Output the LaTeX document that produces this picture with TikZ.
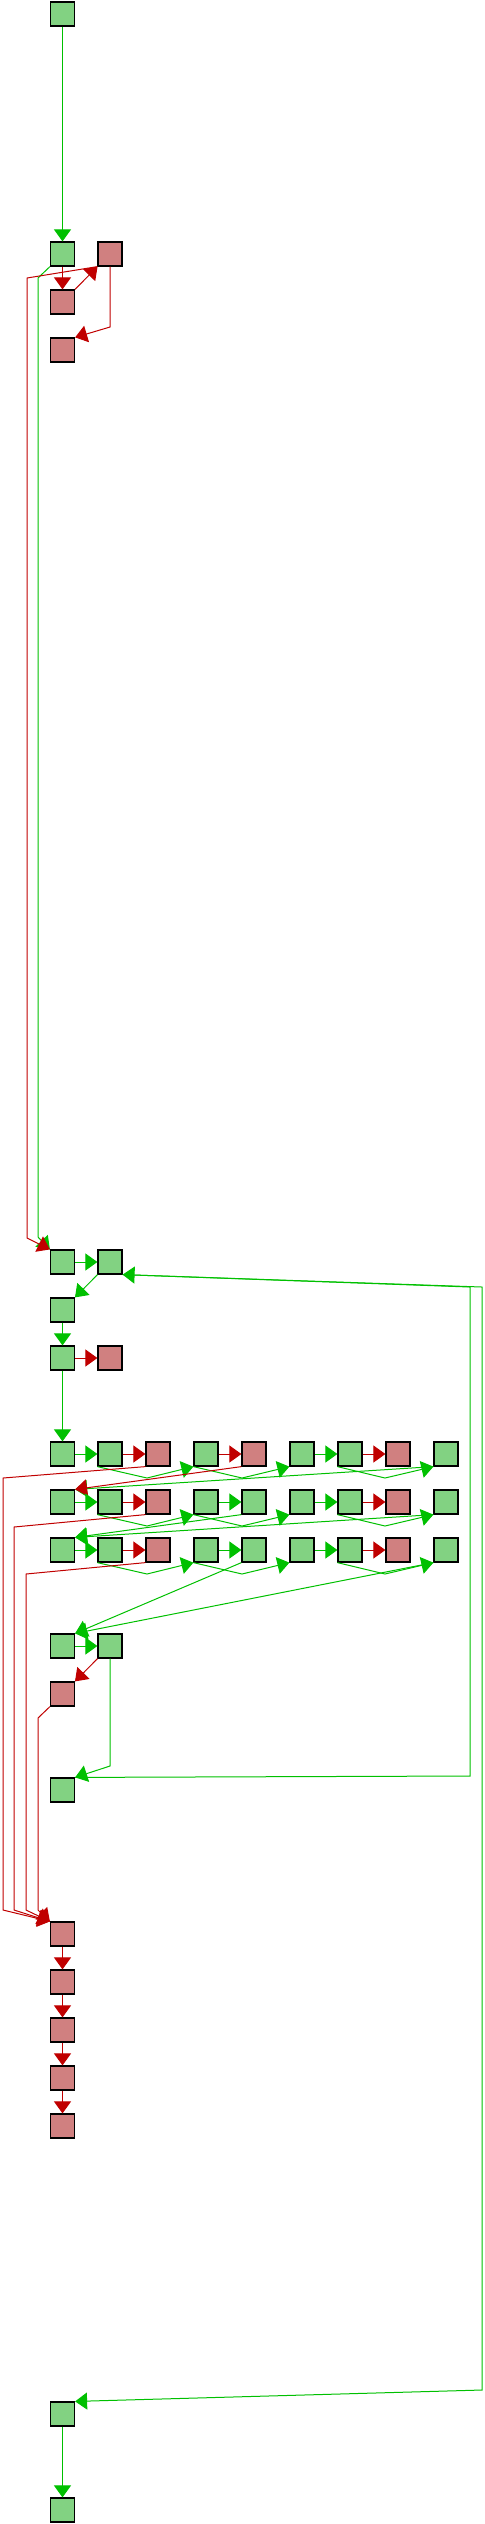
\documentclass[tikz,border=0pt]{standalone}
\usetikzlibrary{arrows.meta}

\definecolor{gfill}{RGB}{130,210,130}
\definecolor{rfill}{RGB}{208,128,128}
\definecolor{gline}{RGB}{0,192,0}
\definecolor{rline}{RGB}{192,0,0}

\tikzset{
    gbox/.style={draw, fill=gfill, minimum size=12pt, inner sep=0pt, line width=0.6pt},
    rbox/.style={draw, fill=rfill, minimum size=12pt, inner sep=0pt, line width=0.6pt},
    gedge/.style={draw=gline, line width=0.5pt, -{Triangle[length=6pt,width=8.5pt]}},
    redge/.style={draw=rline, line width=0.5pt, -{Triangle[length=6pt,width=8.5pt]}}
}

\begin{document}
\begin{tikzpicture}[x=0.5pt, y=-0.5pt]
            \useasboundingbox (0,0) rectangle (484,2524);

            \node (v1) at (62.5,14) [gbox] {};
            \node (v2) at (62.5,254) [gbox] {};
            \node (v3) at (110,254) [rbox] {};
            \node (v4) at (62.5,302) [rbox] {};
            \node (v5) at (62.5,350) [rbox] {};
            \draw[gedge] (v1) -- (v2);
            \draw[redge] (v2) -- (v4);
            \draw[redge] (v4) -- (v3);
            \draw[redge] (v3.south) -- (110,327) -- (v5.north east);

            \node (v6) at (62.5,1262) [gbox] {};
            \node (v7) at (110,1262) [gbox] {};
            \node (v8) at (62.5,1310) [gbox] {};
            \node (v9) at (62.5,1358) [gbox] {};
            \node (v10) at (110,1358) [rbox] {};
            \draw[gedge] (v2.south west) -- (38,278) -- (38,1237) -- (v6.north west);
            \draw[redge] (v3.south west) -- (27,278) -- (27,1238) -- (v6.north west);
            \draw[gedge] (v6) -- (v7);
            \draw[gedge] (v7) -- (v8);
            \draw[gedge] (v8) -- (v9);
            \draw[redge] (v9) -- (v10);

            % first row
            \node (a1) at (62.5,1454) [gbox] {};
            \node (a2) at (110,1454) [gbox] {};
            \node (a3) at (158,1454) [rbox] {};
            \node (a4) at (206,1454) [gbox] {};
            \node (a5) at (254,1454) [rbox] {};
            \node (a6) at (302,1454) [gbox] {};
            \node (a7) at (350,1454) [gbox] {};
            \node (a8) at (398,1454) [rbox] {};
            \node (a9) at (446,1454) [gbox] {};
            \draw[gedge] (v9) -- (a1);
            \draw[gedge] (a1) -- (a2);
            \draw[redge] (a2) -- (a3);
            \draw[redge] (a4) -- (a5);
            \draw[gedge] (a6) -- (a7);
            \draw[redge] (a7) -- (a8);
            \draw[gedge] (a2.south west) -- (147,1478) -- (a4.south west);
            \draw[gedge] (a4.south west) -- (242,1478) -- (a6.south west);
            \draw[gedge] (a7.south west) -- (385,1478) -- (a9.south west);

            % second row
            \node (b1) at (62.5,1502) [gbox] {};
            \node (b2) at (110,1502) [gbox] {};
            \node (b3) at (158,1502) [rbox] {};
            \node (b4) at (206,1502) [gbox] {};
            \node (b5) at (254,1502) [gbox] {};
            \node (b6) at (302,1502) [gbox] {};
            \node (b7) at (350,1502) [gbox] {};
            \node (b8) at (398,1502) [rbox] {};
            \node (b9) at (446,1502) [gbox] {};
            \draw[gedge] (a9.south west) -- (b1.north east);
            \draw[redge] (a5.south west) -- (b1.north east);
            \draw[gedge] (b1) -- (b2);
            \draw[redge] (b2) -- (b3);
            \draw[gedge] (b4) -- (b5);
            \draw[gedge] (b6) -- (b7);
            \draw[redge] (b7) -- (b8);
            \draw[gedge] (b2.south west) -- (147,1526) -- (b4.south west);
            \draw[gedge] (b4.south west) -- (242,1526) -- (b6.south west);
            \draw[gedge] (b7.south west) -- (385,1526) -- (b9.south west);

            % third row
            \node (c1) at (62.5,1550) [gbox] {};
            \node (c2) at (110,1550) [gbox] {};
            \node (c3) at (158,1550) [rbox] {};
            \node (c4) at (206,1550) [gbox] {};
            \node (c5) at (254,1550) [gbox] {};
            \node (c6) at (302,1550) [gbox] {};
            \node (c7) at (350,1550) [gbox] {};
            \node (c8) at (398,1550) [rbox] {};
            \node (c9) at (446,1550) [gbox] {};
            \draw[gedge] (b9.south west) -- (c1.north east);
            \draw[gedge] (b5.south west) -- (c1.north east);
            \draw[gedge] (c1) -- (c2);
            \draw[redge] (c2) -- (c3);
            \draw[gedge] (c4) -- (c5);
            \draw[gedge] (c6) -- (c7);
            \draw[redge] (c7) -- (c8);
            \draw[gedge] (c2.south west) -- (147,1574) -- (c4.south west);
            \draw[gedge] (c4.south west) -- (242,1574) -- (c6.south west);
            \draw[gedge] (c7.south west) -- (385,1574) -- (c9.south west);

            \node (v11) at (62.5,1646) [gbox] {};
            \node (v12) at (110,1646) [gbox] {};
            \node (v13) at (62.5,1694) [rbox] {};
            \node (v14) at (62.5,1790) [gbox] {};
            \draw[gedge] (c5.south west) -- (v11.north east);
            \draw[gedge] (c9.south west) -- (v11.north east);
            \draw[gedge] (v11) -- (v12);
            \draw[redge] (v12) -- (v13);
            \draw[gedge] (v12.south) -- (110,1766) -- (v14.north east);
            \draw[gedge] (v14.north east) -- (470,1776) -- (470,1287) -- (v7.south east);

            \node (v15) at (62.5,1934) [rbox] {};
            \node (v16) at (62.5,1982) [rbox] {};
            \node (v17) at (62.5,2030) [rbox] {};
            \node (v18) at (62.5,2078) [rbox] {};
            \node (v19) at (62.5,2126) [rbox] {};
            \draw[redge] (a3.south west) -- (3,1478) -- (3,1910) -- (v15.north west);
            \draw[redge] (b3.south west) -- (14,1527) -- (14,1910) -- (v15.north west);
            \draw[redge] (c3.south west) -- (26,1574) -- (26,1910) -- (v15.north west);
            \draw[redge] (v13.south west) -- (38,1718) -- (38,1910) -- (v15.north west);
            \draw[redge] (v15) -- (v16);
            \draw[redge] (v16) -- (v17);
            \draw[redge] (v17) -- (v18);
            \draw[redge] (v18) -- (v19);

            \node (v20) at (62.5,2414) [gbox] {};
            \node (v21) at (62.5,2510) [gbox] {};
            \draw[gedge] (v7.south east) -- (482,1287) -- (482,2390) -- (v20.north east);
            \draw[gedge] (v20) -- (v21);
        \end{tikzpicture}
\end{document}
